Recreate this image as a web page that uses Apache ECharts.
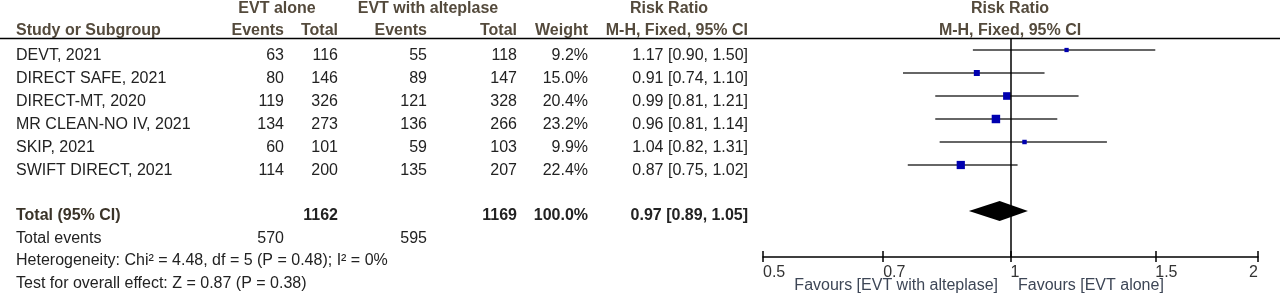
<!DOCTYPE html>
<html>
<head>
<meta charset="utf-8">
<script src="https://cdn.jsdelivr.net/npm/echarts@6/dist/echarts.min.js"></script>
<style>
  html, body { margin: 0; padding: 0; background: #fff; }
  #main { width: 1280px; height: 304px; }
</style>
</head>
<body>
<div id="main"></div>
<script>
// study rows
const studies = ['DEVT, 2021', 'DIRECT SAFE, 2021', 'DIRECT-MT, 2020', 'MR CLEAN-NO IV, 2021', 'SKIP, 2021', 'SWIFT DIRECT, 2021'];
const aloneEvents = [63, 80, 119, 134, 60, 114];
const aloneTotal = [116, 146, 326, 273, 101, 200];
const altEvents = [55, 89, 121, 136, 59, 135];
const altTotal = [118, 147, 328, 266, 103, 207];
const weights = [9.2, 15.0, 20.4, 23.2, 9.9, 22.4];
const rr = [1.17, 0.91, 0.99, 0.96, 1.04, 0.87];
const rrLow = [0.90, 0.74, 0.81, 0.81, 0.82, 0.75];
const rrHigh = [1.50, 1.10, 1.21, 1.14, 1.31, 1.02];

// pooled
const totalRow = 7;
const pooled = [0.97, 0.89, 1.05];
const pooledTotals = [1162, 1169];
const totalEvents = [570, 595];
const heterogeneity = 'Heterogeneity: Chi² = 4.48, df = 5 (P = 0.48); I² = 0%';
const overall = 'Test for overall effect: Z = 0.87 (P = 0.38)';

// axis
const xTicks = [0.5, 0.7, 1, 1.5, 2];
const favours = ['Favours [EVT with alteplase]', 'Favours [EVT alone]'];

const FONT = "'Liberation Sans', Arial, sans-serif";
const HEAD = '#544a3c';
const BODY = '#222';
const GRID_TOP = 38.5, ROW_H = 23;

function rowY(i) { return GRID_TOP + (i + 0.5) * ROW_H + 6; }
function fmt(v) { return v.toFixed(2); }
function ci(i) { return fmt(rr[i]) + ' [' + fmt(rrLow[i]) + ', ' + fmt(rrHigh[i]) + ']'; }

function txt(s, x, y, align, opt) {
    opt = opt || {};
    return {
        type: 'text', silent: true,
        style: {
            text: s, x: x, y: y, align: align || 'left', verticalAlign: 'middle',
            fontFamily: FONT, fontSize: opt.size || 16, fontWeight: opt.bold ? 'bold' : 'normal',
            fill: opt.color || BODY
        }
    };
}

var graphics = [];
// header
graphics.push(txt('EVT alone', 277, 9, 'center', {bold: true, color: HEAD}));
graphics.push(txt('EVT with alteplase', 428, 9, 'center', {bold: true, color: HEAD}));
graphics.push(txt('Risk Ratio', 669, 9, 'center', {bold: true, color: HEAD}));
graphics.push(txt('Risk Ratio', 1010, 9, 'center', {bold: true, color: HEAD}));
graphics.push(txt('Study or Subgroup', 16, 31, 'left', {bold: true, color: HEAD}));
graphics.push(txt('Events', 284, 31, 'right', {bold: true, color: HEAD}));
graphics.push(txt('Total', 338, 31, 'right', {bold: true, color: HEAD}));
graphics.push(txt('Events', 427, 31, 'right', {bold: true, color: HEAD}));
graphics.push(txt('Total', 517, 31, 'right', {bold: true, color: HEAD}));
graphics.push(txt('Weight', 588, 31, 'right', {bold: true, color: HEAD}));
graphics.push(txt('M-H, Fixed, 95% CI', 748, 31, 'right', {bold: true, color: HEAD}));
graphics.push(txt('M-H, Fixed, 95% CI', 1010, 31, 'center', {bold: true, color: HEAD}));
graphics.push({
    type: 'line', silent: true,
    shape: {x1: 0, y1: GRID_TOP, x2: 1280, y2: GRID_TOP},
    style: {stroke: '#000', lineWidth: 1.5}
});

// study rows
studies.forEach(function (s, i) {
    var y = rowY(i);
    graphics.push(txt(s, 16, y, 'left'));
    graphics.push(txt(String(aloneEvents[i]), 284, y, 'right'));
    graphics.push(txt(String(aloneTotal[i]), 338, y, 'right'));
    graphics.push(txt(String(altEvents[i]), 427, y, 'right'));
    graphics.push(txt(String(altTotal[i]), 517, y, 'right'));
    graphics.push(txt(weights[i].toFixed(1) + '%', 588, y, 'right'));
    graphics.push(txt(ci(i), 748, y, 'right'));
});

// totals
var ty = rowY(totalRow) - 1.5;
graphics.push(txt('Total (95% CI)', 16, ty, 'left', {bold: true, color: '#3a3328'}));
graphics.push(txt(String(pooledTotals[0]), 338, ty, 'right', {bold: true}));
graphics.push(txt(String(pooledTotals[1]), 517, ty, 'right', {bold: true}));
graphics.push(txt('100.0%', 588, ty, 'right', {bold: true}));
graphics.push(txt(fmt(pooled[0]) + ' [' + fmt(pooled[1]) + ', ' + fmt(pooled[2]) + ']', 748, ty, 'right', {bold: true}));
graphics.push(txt('Total events', 16, rowY(totalRow + 1) - 1.5, 'left'));
graphics.push(txt(String(totalEvents[0]), 284, rowY(totalRow + 1) - 1.5, 'right'));
graphics.push(txt(String(totalEvents[1]), 427, rowY(totalRow + 1) - 1.5, 'right'));
graphics.push(txt(heterogeneity, 16, rowY(totalRow + 2) - 2, 'left'));
graphics.push(txt(overall, 16, rowY(totalRow + 3) - 2.5, 'left'));

// favours
graphics.push(txt(favours[0], 998, 286, 'right', {color: '#3d4656'}));
graphics.push(txt(favours[1], 1018, 286, 'left', {color: '#3d4656'}));

var chart = echarts.init(document.getElementById('main'), null, {renderer: 'canvas'});

function renderStudy(params, api) {
    var i = api.value(0);
    var a = api.coord([api.value(2), i]);
    var b = api.coord([api.value(3), i]);
    var c = api.coord([api.value(1), i]);
    var s = 1.5 + 0.3 * api.value(4);
    return {
        type: 'group',
        children: [
            {type: 'line', shape: {x1: a[0], y1: a[1], x2: b[0], y2: b[1]}, style: {stroke: '#333', lineWidth: 1.5}},
            {type: 'rect', shape: {x: c[0] - s / 2, y: c[1] - s / 2, width: s, height: s}, style: {fill: '#0000b0'}}
        ]
    };
}

function renderDiamond(params, api) {
    var i = api.value(0);
    var h = 0.43;
    var l = api.coord([api.value(2), i]);
    var r = api.coord([api.value(3), i]);
    var t = api.coord([api.value(1), i - h]);
    var b = api.coord([api.value(1), i + h]);
    return {
        type: 'polygon',
        shape: {points: [l, t, r, b]},
        style: {fill: '#000'}
    };
}

var gridBox = {left: 763, right: 22, top: GRID_TOP, bottom: 304 - (GRID_TOP + 9.5 * ROW_H), containLabel: false};
var xBase = {
    type: 'log', logBase: 2, min: 0.5, max: 2, position: 'bottom',
    splitLine: {show: false}, minorTick: {show: false}
};
var yBase = {type: 'value', inverse: true, min: -0.5, max: 9, show: false};

var option = {
    animation: false,
    backgroundColor: '#fff',
    graphic: graphics,
    grid: [gridBox, Object.assign({}, gridBox)],
    xAxis: [
        Object.assign({}, xBase, {
            gridIndex: 0,
            axisLine: {show: true, onZero: false, lineStyle: {color: '#000', width: 1.5}},
            axisTick: {show: true, inside: true, length: 6, customValues: xTicks, lineStyle: {color: '#000', width: 1.5}},
            axisLabel: {
                show: true, customValues: xTicks, margin: 8, align: 'left', alignMaxLabel: 'right',
                fontFamily: FONT, fontSize: 16, color: '#333',
                formatter: function (v) { return String(Math.round(v * 10) / 10); }
            }
        }),
        Object.assign({}, xBase, {
            gridIndex: 1,
            axisLine: {show: false, onZero: false},
            axisTick: {show: true, inside: false, length: 5, customValues: xTicks, lineStyle: {color: '#000', width: 1.5}},
            axisLabel: {show: false}
        })
    ],
    yAxis: [Object.assign({gridIndex: 0}, yBase), Object.assign({gridIndex: 1}, yBase)],
    series: [
        {
            type: 'custom', renderItem: renderStudy, clip: false,
            encode: {x: [1, 2, 3], y: 0},
            data: studies.map(function (s, i) { return [i, rr[i], rrLow[i], rrHigh[i], weights[i]]; }),
            z: 3
        },
        {
            type: 'custom', renderItem: renderDiamond, clip: false,
            encode: {x: [1, 2, 3], y: 0},
            data: [[totalRow, pooled[0], pooled[1], pooled[2]]],
            z: 3
        },
        {
            type: 'line', data: [], silent: true,
            markLine: {
                silent: true, symbol: 'none', label: {show: false},
                lineStyle: {color: '#000', width: 1.5, type: 'solid'},
                data: [{xAxis: 1}]
            },
            z: 2
        }
    ]
};
chart.setOption(option);
</script>
</body>
</html>
